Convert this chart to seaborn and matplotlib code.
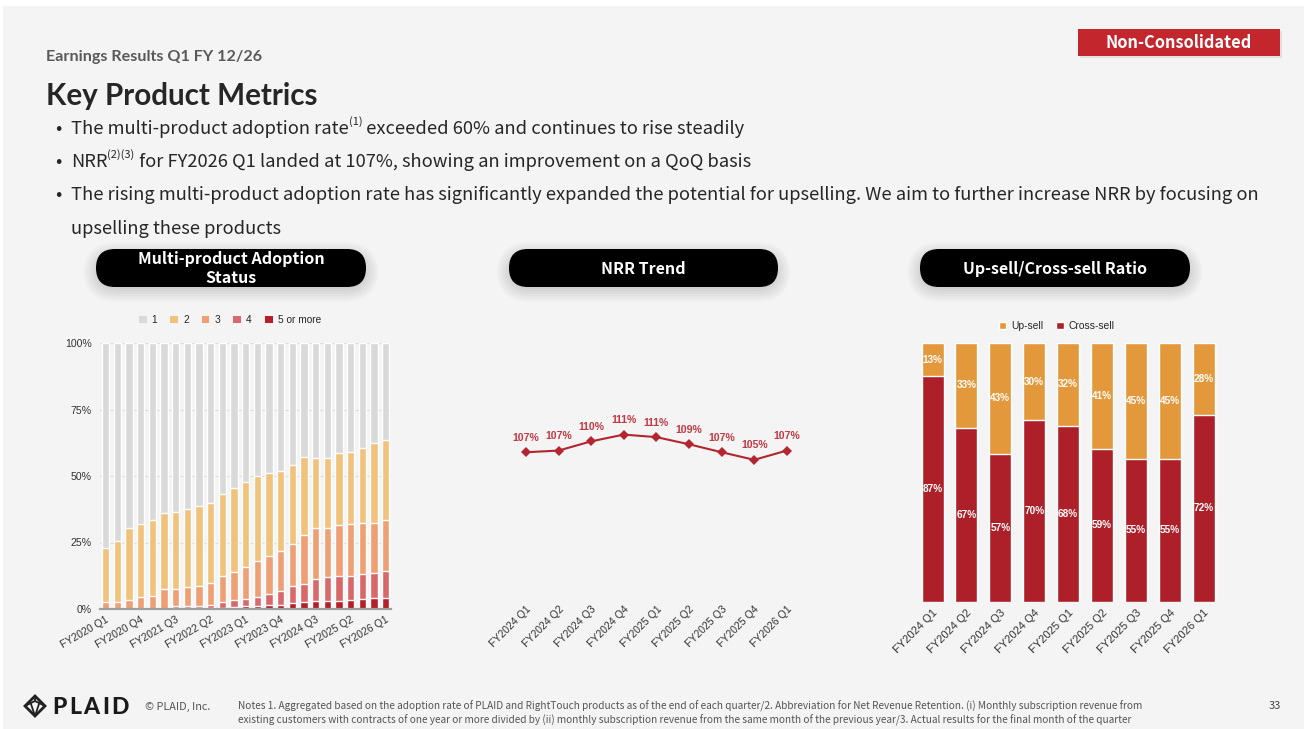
import matplotlib
matplotlib.use("Agg")
import numpy as np
import pandas as pd
import seaborn as sns
import matplotlib.pyplot as plt
from matplotlib.patches import FancyBboxPatch, Rectangle, Patch, Polygon
from matplotlib.lines import Line2D

sns.set_theme(style="white")
plt.rcParams['font.family'] = ['Noto Sans CJK JP', 'DejaVu Sans']

W, H, DPI = 1304, 729, 100

# ---------------- data ----------------
adoption_quarters = [
    "FY2020 Q1", "FY2020 Q2", "FY2020 Q3", "FY2020 Q4",
    "FY2021 Q1", "FY2021 Q2", "FY2021 Q3", "FY2021 Q4",
    "FY2022 Q1", "FY2022 Q2", "FY2022 Q3", "FY2022 Q4",
    "FY2023 Q1", "FY2023 Q2", "FY2023 Q3", "FY2023 Q4",
    "FY2024 Q1", "FY2024 Q2", "FY2024 Q3", "FY2024 Q4",
    "FY2025 Q1", "FY2025 Q2", "FY2025 Q3", "FY2025 Q4",
    "FY2026 Q1",
]
# share of customers (%) by number of products adopted
share_1 = [77.2, 74.3, 69.7, 68.2, 66.7, 64.0, 63.6, 62.4, 61.2, 60.0, 56.9, 54.4, 52.2,
           50.0, 48.9, 48.0, 45.8, 42.9, 43.4, 43.2, 41.4, 40.9, 39.3, 37.5, 36.6]
share_2 = [20.3, 23.2, 27.0, 27.4, 28.3, 28.3, 28.7, 29.3, 30.3, 30.2, 30.8, 31.8, 31.9,
           32.0, 31.1, 30.2, 29.6, 29.1, 26.3, 26.5, 27.1, 27.1, 28.4, 30.1, 29.8]
share_3 = [2.5, 2.5, 3.3, 4.4, 5.0, 7.7, 6.7, 7.3, 7.5, 8.2, 9.7, 10.5, 12.2,
           13.5, 14.5, 14.9, 16.0, 18.6, 18.9, 18.3, 19.0, 19.5, 19.0, 19.0, 19.5]
share_4 = [0.0, 0.0, 0.0, 0.0, 0.0, 0.0, 0.8, 0.8, 0.7, 1.2, 2.1, 2.6, 2.7,
           3.5, 4.1, 5.4, 6.5, 6.8, 8.3, 8.9, 9.4, 9.2, 9.5, 9.1, 10.0]
share_5plus = [0.0, 0.0, 0.0, 0.0, 0.0, 0.0, 0.2, 0.2, 0.3, 0.4, 0.5, 0.7, 1.0,
               1.0, 1.4, 1.5, 2.1, 2.6, 3.1, 3.1, 3.1, 3.3, 3.8, 4.3, 4.1]
adoption_labels = ["1", "2", "3", "4", "5 or more"]
adoption_ticks = ["FY2020 Q1", "FY2020 Q4", "FY2021 Q3", "FY2022 Q2", "FY2023 Q1",
                  "FY2023 Q4", "FY2024 Q3", "FY2025 Q2", "FY2026 Q1"]

nrr_quarters = ["FY2024 Q1", "FY2024 Q2", "FY2024 Q3", "FY2024 Q4", "FY2025 Q1",
                "FY2025 Q2", "FY2025 Q3", "FY2025 Q4", "FY2026 Q1"]
nrr_values = [107.0, 107.4, 109.6, 111.2, 110.6, 108.9, 107.0, 105.2, 107.4]

mix_quarters = nrr_quarters
upsell = [13, 33, 43, 30, 32, 41, 45, 45, 28]
crosssell = [87, 67, 57, 70, 68, 59, 55, 55, 72]

# ---------------- styling ----------------
ADOPT_COLORS = ["#d9d9d9", "#f1c27b", "#ee9f74", "#d9686a", "#b51f2a"]
UP_COLOR, CROSS_COLOR = "#e3993b", "#ad2029"
NRR_COLOR = "#b3262f"
CHART_FONT = ["Liberation Sans", "DejaVu Sans"]
TEXT_DARK = "#262626"

fig = plt.figure(figsize=(W / DPI, H / DPI), dpi=DPI, facecolor="white")
bg = fig.add_axes([0, 0, 1, 1], zorder=0)
bg.set_xlim(0, W)
bg.set_ylim(H, 0)
bg.axis("off")
bg.add_patch(Rectangle((3, 6), W - 3, H - 6, facecolor="#f4f4f4", edgecolor="none"))
renderer = fig.canvas.get_renderer()


def px_axes(x0, y0, x1, y1):
    a = fig.add_axes([x0 / W, 1 - y1 / H, (x1 - x0) / W, (y1 - y0) / H], zorder=2)
    a.set_facecolor("none")
    return a


def fit(t, target_w):
    w = t.get_window_extent(renderer).width
    t.set_fontsize(t.get_fontsize() * target_w / w)
    return t


def runs(x, y, parts, size, color, **kw):
    for txt, sup in parts:
        fs = size * 0.6 if sup else size
        yy = y - size * 0.52 * DPI / 72 if sup else y
        t = bg.text(x, yy, txt, fontsize=fs, color=color, va="baseline", ha="left", **kw)
        x += t.get_window_extent(renderer).width
    return x


def pill(x0, y0, x1, y1, lines):
    h = y1 - y0
    for k in range(6):
        grow = 2 + k * 2.5
        bg.add_patch(FancyBboxPatch((x0 - grow + 2, y0 - grow + 8), x1 - x0 + 2 * grow - 4,
                                    h + 2 * grow - 8,
                                    boxstyle=f"round,pad=0,rounding_size={h / 2 + grow}",
                                    facecolor="black", edgecolor="none", alpha=0.022))
    bg.add_patch(FancyBboxPatch((x0, y0), x1 - x0, h,
                                boxstyle=f"round,pad=0,rounding_size={h / 2}",
                                facecolor="black", edgecolor="none"))
    cx = (x0 + x1) / 2
    if len(lines) == 1:
        bg.text(cx, (y0 + y1) / 2 + 1, lines[0], color="white", fontsize=11.5,
                fontweight="bold", ha="center", va="center")
    else:
        bg.text(cx, y0 + 10, lines[0], color="white", fontsize=11.5,
                fontweight="bold", ha="center", va="center")
        bg.text(cx, y0 + 29, lines[1], color="white", fontsize=11.5,
                fontweight="bold", ha="center", va="center")


# ---------------- header ----------------
t = bg.text(46, 57, "Earnings Results Q1 FY 12/26", fontsize=10, fontweight="bold",
            color="#595959", va="center", ha="left", family=["Lato", "DejaVu Sans"])
fit(t, 216)
t = bg.text(46, 96, "Key Product Metrics", fontsize=19, fontweight="bold",
            color=TEXT_DARK, va="center", ha="left", family=["Lato", "DejaVu Sans"])
fit(t, 272)

bg.add_patch(Rectangle((1080, 31), 202, 27, facecolor="#000000", alpha=0.08, edgecolor="none"))
bg.add_patch(Rectangle((1078, 29), 202, 27, facecolor="#c4262e", edgecolor="none"))
bg.text(1179, 43, "Non-Consolidated", color="white", fontsize=11.8, fontweight="bold",
        ha="center", va="center")

# bullets
BODY = 13.2
probe = bg.text(71, 200, "The rising multi-product adoption rate has significantly expanded the "
                "potential for upselling. We aim to further increase NRR by focusing on",
                fontsize=BODY, color=TEXT_DARK, va="baseline", ha="left")
fit(probe, 1187)
BODY = probe.get_fontsize()
for yb in (134, 167, 200):
    bg.text(55, yb, "•", fontsize=BODY, color=TEXT_DARK, va="baseline", ha="left")
runs(71, 134, [("The multi-product adoption rate", False), ("(1)", True),
               (" exceeded 60% and continues to rise steadily", False)], BODY, TEXT_DARK)
runs(71, 167, [("NRR", False), ("(2)(3)", True),
               (" for FY2026 Q1 landed at 107%, showing an improvement on a QoQ basis", False)],
     BODY, TEXT_DARK)
bg.text(71, 234, "upselling these products", fontsize=BODY, color=TEXT_DARK,
        va="baseline", ha="left")

# section pills
pill(96, 249, 366, 287, ["Multi-product Adoption", "Status"])
pill(509, 249, 778, 287, ["NRR Trend"])
pill(920, 249, 1190, 287, ["Up-sell/Cross-sell Ratio"])

# ---------------- chart 1: multi-product adoption ----------------
ax1 = px_axes(99.8, 343, 391.5, 609)
adopt = pd.DataFrame({"quarter": adoption_quarters, "1": share_1, "2": share_2,
                      "3": share_3, "4": share_4, "5 or more": share_5plus})
stack_cols = adoption_labels[::-1]  # bottom of the stack first
cum = adopt[stack_cols].cumsum(axis=1)
for lab, col in zip(adoption_labels, ADOPT_COLORS):
    sns.barplot(x=adopt["quarter"], y=cum[lab], color=col, width=0.64, saturation=1,
                order=adoption_quarters, ax=ax1, zorder=2)
ax1.set_xlim(-0.5, len(adoption_quarters) - 0.5)
ax1.set_ylim(0, 100)
ax1.set_yticks([0, 25, 50, 75, 100], labels=["0%", "25%", "50%", "75%", "100%"])
ax1.set_xticks([adoption_quarters.index(q) for q in adoption_ticks], labels=adoption_ticks)
ax1.tick_params(axis="x", length=0, pad=4, labelsize=7.6, labelcolor="#333333")
ax1.tick_params(axis="y", length=0, pad=6, labelsize=7.6, labelcolor="#333333")
for lbl in ax1.get_xticklabels():
    lbl.set_rotation(30)
    lbl.set_ha("right")
    lbl.set_rotation_mode("anchor")
for lbl in ax1.get_xticklabels() + ax1.get_yticklabels():
    lbl.set_family(CHART_FONT)
ax1.set_axisbelow(True)
ax1.yaxis.grid(True, color="#dcdcdc", lw=0.8)
ax1.xaxis.grid(False)
for s in ("top", "right", "left"):
    ax1.spines[s].set_visible(False)
ax1.spines["bottom"].set_color("#a0a0a0")
ax1.spines["bottom"].set_linewidth(1.6)
ax1.set_xlabel("")
ax1.set_ylabel("")
handles = [Patch(facecolor=c, edgecolor="none") for c in ADOPT_COLORS]
ax1.legend(handles, adoption_labels, ncol=5, loc="center", bbox_to_anchor=(0.446, 1.086),
           frameon=False, handlelength=0.75, handleheight=0.75, handletextpad=0.5,
           columnspacing=1.3, prop={"family": CHART_FONT, "size": 7.3})

# ---------------- chart 2: NRR trend ----------------
ax2 = px_axes(509.7, 343, 803.1, 601)
nrr = pd.DataFrame({"quarter": nrr_quarters, "nrr": nrr_values})
sns.lineplot(data=nrr, x="quarter", y="nrr", sort=False, color=NRR_COLOR, lw=1.5,
             marker="D", markersize=5, markeredgewidth=0, ax=ax2)
for i, v in enumerate(nrr_values):
    ax2.annotate(f"{v:.0f}%", (i, v), xytext=(0, 10.5), textcoords="offset points",
                 ha="center", va="center", fontsize=7.6, fontweight="bold",
                 color="#c23a44", family=CHART_FONT)
ax2.set_xlim(-0.5, len(nrr_quarters) - 0.5)
ax2.set_ylim(71.6, 133.0)
ax2.set_yticks([])
ax2.set_xticks(range(len(nrr_quarters)), labels=nrr_quarters)
ax2.tick_params(axis="x", length=0, pad=2, labelsize=7.6, labelcolor="#333333")
for lbl in ax2.get_xticklabels():
    lbl.set_rotation(45)
    lbl.set_ha("right")
    lbl.set_rotation_mode("anchor")
    lbl.set_family(CHART_FONT)
for s in ax2.spines.values():
    s.set_visible(False)
ax2.set_xlabel("")
ax2.set_ylabel("")

# ---------------- chart 3: up-sell / cross-sell ----------------
ax3 = px_axes(915.6, 342.7, 1220.7, 601.7)
mix = pd.DataFrame({"quarter": mix_quarters, "Up-sell": upsell, "Cross-sell": crosssell})
mix["total"] = mix["Cross-sell"] + mix["Up-sell"]
sns.barplot(data=mix, x="quarter", y="total", color=UP_COLOR, width=0.65, saturation=1, ax=ax3)
sns.barplot(data=mix, x="quarter", y="Cross-sell", color=CROSS_COLOR, width=0.65,
            saturation=1, ax=ax3)
for i, (u, c) in enumerate(zip(upsell, crosssell)):
    ax3.text(i, c + u / 2, f"{u}%", ha="center", va="center", color="white",
             fontsize=7.2, fontweight="bold", family=CHART_FONT)
    ax3.text(i, c / 2, f"{c}%", ha="center", va="center", color="white",
             fontsize=7.2, fontweight="bold", family=CHART_FONT)
ax3.set_xlim(-0.5, len(mix_quarters) - 0.5)
ax3.set_ylim(0, 100)
ax3.set_yticks([])
ax3.set_xticks(range(len(mix_quarters)), labels=mix_quarters)
ax3.tick_params(axis="x", length=0, pad=4, labelsize=8, labelcolor="#333333")
for lbl in ax3.get_xticklabels():
    lbl.set_rotation(45)
    lbl.set_ha("right")
    lbl.set_rotation_mode("anchor")
    lbl.set_family(CHART_FONT)
for s in ax3.spines.values():
    s.set_visible(False)
ax3.set_xlabel("")
ax3.set_ylabel("")
ax3.legend([Patch(facecolor=UP_COLOR), Patch(facecolor=CROSS_COLOR)], ["Up-sell", "Cross-sell"],
           ncol=2, loc="center", bbox_to_anchor=(0.463, 1.064), frameon=False,
           handlelength=0.75, handleheight=0.75, handletextpad=0.5, columnspacing=1.2,
           prop={"family": CHART_FONT, "size": 7.4})

# ---------------- footer ----------------
# logo mark
outer = [(25, 706), (35, 696), (45, 706), (35, 716)]
bg.add_patch(Polygon(outer, closed=True, facecolor="none", edgecolor="#222222", lw=2.0,
                     joinstyle="miter"))
for seg in [((25, 706), (35, 701)), ((35, 701), (45, 706)), ((30, 701), (35, 716)),
            ((40, 701), (35, 716)), ((35, 696), (35, 701))]:
    bg.add_line(Line2D([seg[0][0], seg[1][0]], [seg[0][1], seg[1][1]], color="#222222", lw=1.3))
xl = 52
for ch in "PLAID":
    t = bg.text(xl, 707, ch, fontsize=16.5, fontweight="black", color="#1a1a1a",
                va="center", ha="left", family=["Lato", "DejaVu Sans"])
    xl += t.get_window_extent(renderer).width + 2.5
bg.text(145, 707, "© PLAID, Inc.", fontsize=7.8, color="#555555", va="center", ha="left")
n1 = bg.text(238, 706, "Notes 1. Aggregated based on the adoption rate of PLAID and RightTouch "
             "products as of the end of each quarter/2. Abbreviation for Net Revenue Retention. "
             "(i) Monthly subscription revenue from", fontsize=7, color="#555555",
             va="center", ha="left")
fit(n1, 904)
bg.text(238, 720, "existing customers with contracts of one year or more divided by (ii) monthly "
        "subscription revenue from the same month of the previous year/3. Actual results for "
        "the final month of the quarter", fontsize=n1.get_fontsize(), color="#555555",
        va="center", ha="left")
bg.text(1281, 706, "33", fontsize=8, color="#444444", va="center", ha="right")

fig.savefig("out.png", dpi=DPI, facecolor=fig.get_facecolor())
